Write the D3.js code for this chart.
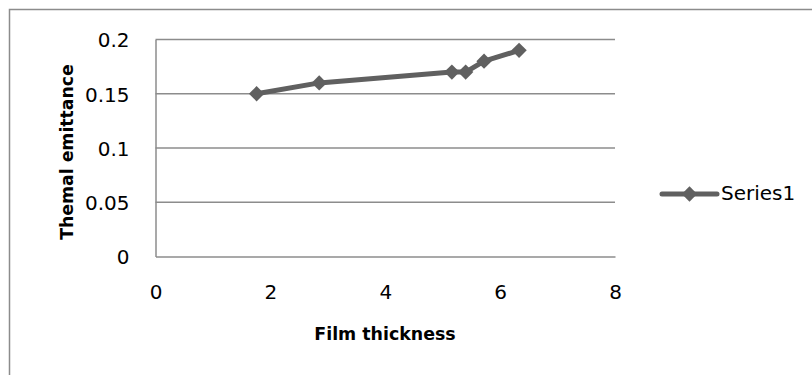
<!DOCTYPE html>
<html>
<head>
<meta charset="utf-8">
<script src="https://cdn.jsdelivr.net/npm/d3@7"></script>
<style>
  html, body { margin: 0; padding: 0; background: #fff; }
  svg { display: block; }
  text { font-family: "DejaVu Sans", sans-serif; fill: #000; }
</style>
</head>
<body>
<svg id="chart" width="812" height="375"></svg>
<script>
// Film thickness vs. thermal emittance
const thickness = [1.76, 2.85, 5.16, 5.40, 5.72, 6.33];
const emittance = [0.15, 0.16, 0.17, 0.17, 0.18, 0.19];
const xTicks = [0, 2, 4, 6, 8];
const yTicks = [0, 0.05, 0.1, 0.15, 0.2];
const yTickLabels = ["0", "0.05", "0.1", "0.15", "0.2"];
const seriesName = "Series1";
const xTitle = "Film thickness";
const yTitle = "Themal emittance";

const svg = d3.select("#chart");
const gridColor = "#8c8c8c";
const lineColor = "#606060";

// outer chart frame
svg.append("rect")
  .attr("x", 9.5).attr("y", 9.5)
  .attr("width", 812).attr("height", 375)
  .attr("fill", "none")
  .attr("stroke", "#8c8c8c").attr("stroke-width", 1.5);

const plot = { left: 155.5, right: 615, top: 39.5, bottom: 256.5 };

const x = d3.scaleLinear().domain([0, 8]).range([plot.left, plot.right]);
const y = d3.scaleLinear().domain([0, 0.2]).range([plot.bottom, plot.top]);

// horizontal gridlines
svg.append("g")
  .selectAll("line")
  .data(yTicks.filter(d => d > 0))
  .join("line")
  .attr("x1", plot.left).attr("x2", plot.right)
  .attr("y1", d => y(d)).attr("y2", d => y(d))
  .attr("stroke", gridColor).attr("stroke-width", 1.5);

// axes
const xAxis = d3.axisBottom(x).tickValues(xTicks).tickSize(0).tickPadding(28)
  .tickFormat(d3.format("d"));
const gx = svg.append("g").attr("transform", `translate(0,${plot.bottom})`).call(xAxis);
gx.select(".domain").attr("stroke", gridColor).attr("stroke-width", 1.5);
gx.selectAll("text")
  .attr("font-family", "DejaVu Sans")
  .style("font-size", "20px").attr("fill", "#000");

const yAxis = d3.axisLeft(y).tickValues(yTicks).tickSize(0).tickPadding(26)
  .tickFormat((d, i) => yTickLabels[i]);
const gy = svg.append("g").attr("transform", `translate(${plot.left},0)`).call(yAxis);
gy.select(".domain").attr("stroke", gridColor).attr("stroke-width", 1.5);
gy.selectAll("text")
  .attr("font-family", "DejaVu Sans")
  .attr("dy", "0.37em")
  .style("font-size", "20px").attr("fill", "#000");

// axis titles
svg.append("text")
  .attr("x", 385).attr("y", 340)
  .attr("text-anchor", "middle")
  .style("font-size", "17.4px").style("font-weight", "bold")
  .text(xTitle);

svg.append("text")
  .attr("transform", "translate(73,152) rotate(-90)")
  .attr("text-anchor", "middle")
  .style("font-size", "17.3px").style("font-weight", "bold")
  .text(yTitle);

// series line and diamond markers
const points = thickness.map((t, i) => ({ x: t, y: emittance[i] }));
const line = d3.line().x(d => x(d.x)).y(d => y(d.y));
svg.append("path")
  .datum(points)
  .attr("d", line)
  .attr("fill", "none")
  .attr("stroke", lineColor).attr("stroke-width", 5)
  .attr("stroke-linejoin", "round").attr("stroke-linecap", "round");

const diamond = d3.symbol().type(d3.symbolDiamond2).size(150);
svg.append("g")
  .selectAll("path")
  .data(points)
  .join("path")
  .attr("transform", d => `translate(${x(d.x)},${y(d.y)})`)
  .attr("d", diamond)
  .attr("fill", lineColor);

// legend
const legend = svg.append("g").attr("transform", "translate(662,194)");
legend.append("line")
  .attr("x1", 0).attr("x2", 55).attr("y1", 0).attr("y2", 0)
  .attr("stroke", lineColor).attr("stroke-width", 5).attr("stroke-linecap", "round");
legend.append("path")
  .attr("transform", "translate(27.5,0)")
  .attr("d", diamond)
  .attr("fill", lineColor);
legend.append("text")
  .attr("x", 59).attr("y", 5.5)
  .style("font-size", "20px")
  .text(seriesName);
</script>
</body>
</html>
